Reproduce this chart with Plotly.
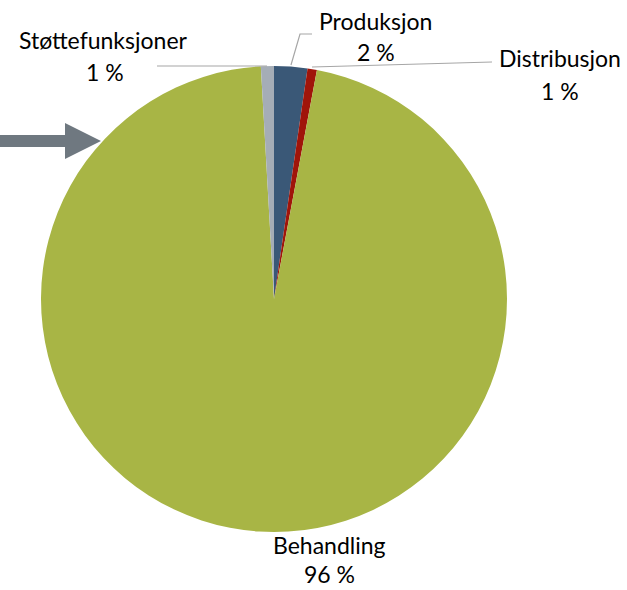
import plotly.graph_objects as go

# Data
categories = ["Produksjon", "Distribusjon", "Behandling", "Støttefunksjoner"]
values = [2.3, 0.65, 96.15, 0.9]
colors = ["#3A5877", "#A0150A", "#A8B545", "#A5ADB6"]

W, H = 627, 590
total = sum(values)
pct_labels = [f"{round(v / total * 100)} %" for v in values]


def px(x):
    return x / W


def py(y):
    return 1 - y / H


fig = go.Figure(
    go.Pie(
        labels=categories,
        values=values,
        sort=False,
        direction="clockwise",
        rotation=0,
        marker=dict(colors=colors, line=dict(width=0)),
        textinfo="none",
        hoverinfo="label+percent",
        domain=dict(x=[px(40), px(508)], y=[py(532), py(66)]),
        showlegend=False,
    )
)

font = dict(family="Lato, Carlito, Calibri, sans-serif", size=23, color="#000000")

# label placement (pixel centres) for name line and percent line
label_pos = {
    "Produksjon": ((376, 21), (376, 52)),
    "Distribusjon": ((560, 58), (560, 91)),
    "Behandling": ((329, 545), (329, 590)),
    "Støttefunksjoner": ((103, 40), (105, 72)),
}

annotations = []
for cat, pl in zip(categories, pct_labels):
    (x1, y1), (x2, y2) = label_pos[cat]
    annotations.append(dict(x=px(x1), y=py(y1), xref="paper", yref="paper",
                            text=cat, showarrow=False, font=font,
                            xanchor="center", yanchor="middle"))
    annotations.append(dict(x=px(x2), y=py(y2), xref="paper", yref="paper",
                            text=pl, showarrow=False, font=font,
                            xanchor="center",
                            yanchor="bottom" if y2 >= H else "middle"))

line_style = dict(color="#A6A6A6", width=1.2)


def path(points, closed=False):
    s = "M " + " L ".join(f"{px(x):.5f},{py(y):.5f}" for x, y in points)
    return s + (" Z" if closed else "")


shapes = [
    dict(type="path", xref="paper", yref="paper",
         path=path([(157, 66), (267, 66)]), line=line_style),
    dict(type="path", xref="paper", yref="paper",
         path=path([(312, 34), (300, 34), (291, 65)]), line=line_style),
    dict(type="path", xref="paper", yref="paper",
         path=path([(312, 67), (492, 62)]), line=line_style),
    # arrow
    dict(type="path", xref="paper", yref="paper",
         path=path([(0, 135), (65, 135), (65, 123), (101, 141), (65, 159),
                    (65, 147), (0, 147)], closed=True),
         fillcolor="#6F7880", line=dict(width=0)),
]

fig.update_layout(
    width=W, height=H,
    margin=dict(l=0, r=0, t=0, b=0),
    paper_bgcolor="white",
    plot_bgcolor="white",
    annotations=annotations,
    shapes=shapes,
)

fig.write_html(
    "out.html",
    config={"displayModeBar": False},
    post_script="document.body.style.margin='0';document.body.style.padding='0';",
)
